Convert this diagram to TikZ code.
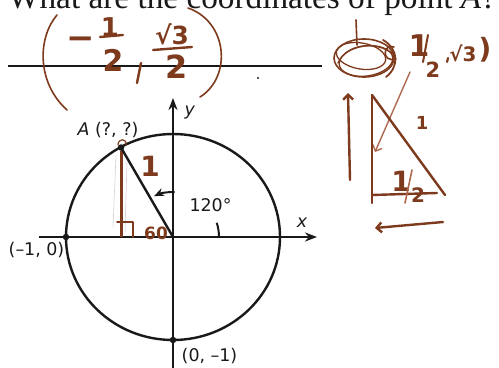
\documentclass[tikz,border=0pt]{standalone}
\usepackage{fontspec}
\setmainfont{Liberation Serif}
\newfontfamily\lblfont{DejaVu Sans}
\usetikzlibrary{arrows.meta}
\definecolor{ink}{RGB}{25,25,25}
\definecolor{hand}{RGB}{125,58,28}
\definecolor{handlt}{RGB}{175,105,80}
\newcommand{\hsz}[1]{\lblfont\bfseries\fontsize{#1}{#1}\selectfont}
\begin{document}
\begin{tikzpicture}[x=1bp,y=1bp,
  axis/.style={ink, line width=2.4bp, -{Stealth[length=12bp,width=9bp]}},
  curve/.style={ink, line width=2.4bp},
  dot/.style={circle, fill=ink, inner sep=0pt, minimum size=6.5bp},
  lbl/.style={font=\lblfont\fontsize{17.5}{19}\selectfont, text=ink, inner sep=0pt},
  handline/.style={hand, line width=2.4bp, line cap=round, line join=round},
  handbarb/.style={-{Straight Barb[length=5bp,width=10bp]}},
  handtext/.style={text=hand, inner sep=0pt}]
\useasboundingbox (0,0) rectangle (499,367);
% title and answer line
\node[anchor=base west, inner sep=0pt, font=\fontsize{33.4}{40}\selectfont, text=ink] (title) at (8,359) {What are the coordinates of point \textit{A}?};
\coordinate (la) at (8,301);
\coordinate (lb) at (322,301);
\draw[ink, line width=2bp] (la) -- (lb);
% unit circle
\coordinate (O) at (173,130);
\draw[curve] (O) ellipse [x radius=107, y radius=103];
\coordinate (xs) at (39,130);
\coordinate (xe) at (317,130);
\coordinate (ys) at (173,-2);
\coordinate (ye) at (173,269);
\draw[axis] (xs) -- (xe);
\draw[axis] (ys) -- (ye);
\coordinate (Af) at (121,130);
\draw[gray!35, line width=0.6bp] (116,212) -- (113,140);
\draw[gray!35, line width=0.6bp] (127,205) -- (125,135);
\draw[hand, line width=3bp] (121,216) -- (Af);
\node[dot] (A) at (121,219.5) {};
\node[dot] (m10) at (66,130) {};
\node[dot] (p0m) at (173,27) {};
\draw[curve] (A.center) -- (O);
\draw[curve, line width=2bp] ([shift={(0:46)}]O) arc[start angle=0, end angle=18, radius=46];
\draw[curve, line width=2bp, -{Stealth[length=10bp,width=8bp]}] ([shift={(88:45)}]O) arc[start angle=88, end angle=115, radius=45];
\node[lbl] (lm) at (36.5,116.5) {(–1, 0)};
\node[lbl] (l0m) at (209.5,11) {(0, –1)};
\node[lbl] (lA) at (108,237) {\textit{A} (?, ?)};
\node[lbl] (l120) at (210.5,162) {120°};
\node[lbl] (lx) at (302,144) {\textit{x}};
\node[lbl] (ly) at (190,254) {\textit{y}};
% handwritten answer
\draw[handline, line width=1.6bp] (57,352) .. controls (38,330) and (36,285) .. (67,257);
\draw[handline, line width=1.6bp] (188,359) .. controls (228,345) and (232,290) .. (200,270);
\node[handtext, font=\hsz{34}] (am) at (81,324) {−};
\node[handtext, font=\hsz{26}] (an1) at (110,340) {1};
\draw[handline] (100,330) -- (123,332);
\node[handtext, font=\hsz{30}] (ad1) at (113,307) {2};
\draw[handline] (141,304) -- (137,284);
\node[handtext, font=\hsz{25}] (an2) at (172,333) {√3};
\draw[handline] (153,317) -- (192,320);
\node[handtext, font=\hsz{32}] (ad2) at (177,300) {2};
% scribble and note on the right
\draw[handline, line width=1.6bp] (364,309) ellipse [x radius=30, y radius=19];
\draw[handline, line width=1.3bp, rotate around={-10:(361,311)}] (361,311) ellipse [x radius=25, y radius=13];
\draw[handline, line width=1.3bp, rotate around={8:(366,306)}] (366,306) ellipse [x radius=27, y radius=15];
\draw[handline, line width=1.4bp] (338,304) .. controls (346,323) and (376,327) .. (393,313);
\draw[handline, line width=1.6bp] (356,347) -- (357,322);
\draw[handline, line width=1.8bp] (383,327) .. controls (399,318) and (399,300) .. (386,290);
\draw[handline, line width=1.6bp] (394,320) .. controls (383,324) and (381,304) .. (396,308);
\node[handtext, font=\hsz{30}] (r1) at (419,321.5) {1};
\draw[handline, line width=2bp] (428,332) -- (423,305);
\node[handtext, font=\hsz{21}] (r2) at (433,297) {2};
\draw[handline, line width=2.2bp] (448,309) -- (447,305);
\node[handtext, font=\hsz{20}] (r3) at (463,313.5) {√3};
\node[handtext, font=\hsz{28}] (rp) at (485,317) {)};
% right sketch
\coordinate (d1) at (410,295);
\coordinate (d2) at (375,215);
\draw[handline, handlt, line width=1.4bp, handbarb] (d1) -- (d2);
\coordinate (u1) at (350,187);
\coordinate (u2) at (348,274);
\draw[handline, handbarb] (u1) -- (u2);
\coordinate (t1) at (372,272);
\coordinate (t2) at (372,164);
\coordinate (t3) at (445,172);
\coordinate (t4) at (437,174);
\coordinate (t5) at (372,172);
\draw[handline] (t1) -- (t2);
\draw[handline] (t1) -- (t3);
\draw[handline] (t5) -- (t4);
\node[handtext, font=\hsz{18}] (s1) at (422,244) {1};
\node[handtext, font=\hsz{28}] (h1) at (401,186) {1};
\draw[handline, handlt, line width=1.6bp] (412,197) -- (405,164);
\node[handtext, font=\hsz{20}] (h2) at (418,172) {2};
\coordinate (b1) at (443,145);
\coordinate (b2) at (375,139);
\draw[handline, handbarb] (b1) -- (b2);
% marks in the circle
\draw[handline, line width=1.2bp] (118,222) .. controls (118,229) and (127,229) .. (126,222);
\draw[handline, line width=1.8bp] (117,145) -- (133,145) -- (133,130);
\node[handtext, font=\hsz{17}] (s60) at (156,134) {60};
\node[handtext, font=\hsz{28}] (s1b) at (150,201) {1};
\fill[ink] (258,289) circle [radius=1.2];
\end{tikzpicture}
\end{document}
